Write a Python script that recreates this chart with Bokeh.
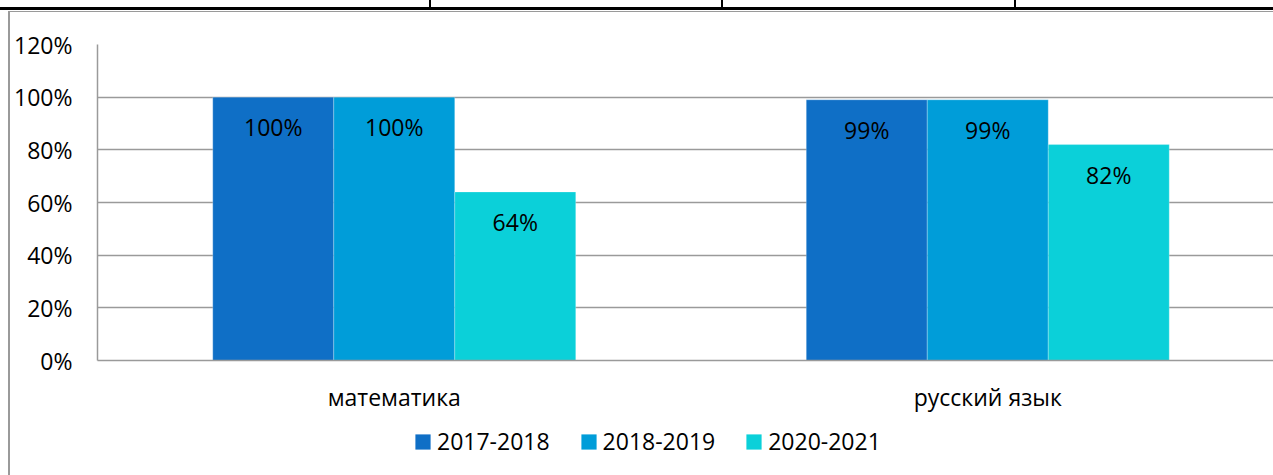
from bokeh.plotting import figure
from bokeh.models import (Range1d, FixedTicker, NumeralTickFormatter, ColumnDataSource,
                          LabelSet, Legend, LegendItem, Div, Column, Row)
from bokeh.core.properties import value
from bokeh.embed import file_html
from bokeh.resources import INLINE

categories = ["математика", "русский язык"]
series_names = ["2017-2018", "2018-2019", "2020-2021"]
values_2017_2018 = [1.00, 0.99]
values_2018_2019 = [1.00, 0.99]
values_2020_2021 = [0.64, 0.82]
colors = ["#0F6FC6", "#009DD9", "#0BD0D9"]
y_ticks = [0, 0.2, 0.4, 0.6, 0.8, 1.0, 1.2]

FONT = "Open Sans"
FS_NUM = "23px"
FS_TXT = "23px"
GRID = "#9a9a9a"

PAGE_W, PAGE_H = 1273, 475
TOP_BAND, LEFT_BAND = 12, 10
LEG_H = 55
W = PAGE_W - LEFT_BAND
H = PAGE_H - TOP_BAND - LEG_H
LEFT, TOP, BOTTOM = 87, 32, 60
frame_w = W - LEFT
cat_px = 593.5

p = figure(width=W, height=H, output_backend="svg", toolbar_location=None,
           x_range=Range1d(0, frame_w / cat_px), y_range=Range1d(0, 1.2),
           min_border_left=LEFT, min_border_right=0, min_border_top=TOP,
           min_border_bottom=BOTTOM)
p.outline_line_color = None
p.background_fill_color = "white"
p.border_fill_color = "white"

# legend strip (a second small plot that only carries the legend)
pl = figure(width=W, height=LEG_H, output_backend="svg", toolbar_location=None,
            x_axis_type=None, y_axis_type=None, min_border=0,
            x_range=Range1d(0, 1), y_range=Range1d(0, 1))
pl.outline_line_color = None
pl.background_fill_color = "white"
pl.border_fill_color = "white"

bw = 121 / cat_px
centers = [i + 0.5 for i in range(len(categories))]
all_series = [values_2017_2018, values_2018_2019, values_2020_2021]
items = []
for k, (name, vals, col) in enumerate(zip(series_names, all_series, colors)):
    xs = [c + (k - 1) * bw for c in centers]
    src = ColumnDataSource(dict(x=xs, top=vals,
                                lab=[f"{round(v*100)}%" for v in vals]))
    p.vbar(x="x", top="top", width=bw, bottom=0, source=src, fill_color=col,
           line_color="white", line_alpha=0.25, line_width=1)
    p.add_layout(LabelSet(x="x", y="top", text="lab", source=src, y_offset=-30,
                          text_align="center", text_baseline="middle",
                          text_font=value(FONT), text_font_size=value(FS_NUM),
                          text_color="black"))
    # legend-only proxy: a zero-height bar, so only its legend swatch shows
    rl = pl.vbar(x=[0.5], top=[0], bottom=0, width=0.1, fill_color=col,
                 line_color=None)
    items.append(LegendItem(label=name, renderers=[rl]))

# y axis
p.yaxis.ticker = FixedTicker(ticks=y_ticks)
p.yaxis.formatter = NumeralTickFormatter(format="0%")
p.yaxis.major_tick_out = 0
p.yaxis.major_tick_in = 0
p.yaxis.minor_tick_out = 0
p.yaxis.minor_tick_in = 0
p.yaxis.axis_line_color = GRID
p.yaxis.axis_line_width = 1.5
p.yaxis.major_label_standoff = 25
p.yaxis.major_label_text_font = FONT
p.yaxis.major_label_text_font_size = FS_NUM
p.yaxis.major_label_text_color = "black"

# x axis
p.xaxis.ticker = FixedTicker(ticks=centers)
p.xaxis.major_label_overrides = {c: n for c, n in zip(centers, categories)}
p.xaxis.major_tick_out = 0
p.xaxis.major_tick_in = 0
p.xaxis.minor_tick_out = 0
p.xaxis.minor_tick_in = 0
p.xaxis.axis_line_color = GRID
p.xaxis.axis_line_width = 1.5
p.xaxis.major_label_standoff = 20
p.xaxis.major_label_text_font = FONT
p.xaxis.major_label_text_font_size = FS_TXT
p.xaxis.major_label_text_color = "black"

p.xgrid.grid_line_color = None
p.ygrid.ticker = FixedTicker(ticks=y_ticks)
p.ygrid.grid_line_color = GRID
p.ygrid.grid_line_width = 1.5

legend = Legend(items=items, orientation="horizontal", location=(316, 18),
                glyph_width=19, glyph_height=19, label_standoff=5, spacing=29,
                padding=0, margin=0, border_line_color=None,
                background_fill_alpha=0,
                label_text_font=FONT, label_text_font_size=FS_NUM,
                label_text_color="black")
pl.add_layout(legend, "center")

# surrounding table borders (page decoration)
g = "linear-gradient(#000,#000)"
gg = f"linear-gradient({GRID},{GRID})"
top_div = Div(text="", width=PAGE_W, height=TOP_BAND, margin=0, styles={
    "background-image": ", ".join([g, g, g, g, gg]),
    "background-position": "0px 7px, 429px 0px, 721px 0px, 1014px 0px, 8px 11px",
    "background-size": f"{PAGE_W}px 3px, 2px 7px, 2px 7px, 2px 7px, {PAGE_W}px 1px",
    "background-repeat": "no-repeat",
})
left_div = Div(text="", width=LEFT_BAND, height=PAGE_H - TOP_BAND, margin=0, styles={
    "background-image": gg,
    "background-position": "8px 0px",
    "background-size": "2px 100%",
    "background-repeat": "no-repeat",
})
layout = Column(children=[top_div,
                          Row(children=[left_div, Column(children=[p, pl], spacing=0)],
                              spacing=0)],
                spacing=0)

open("out.html", "w").write(file_html(layout, INLINE))
